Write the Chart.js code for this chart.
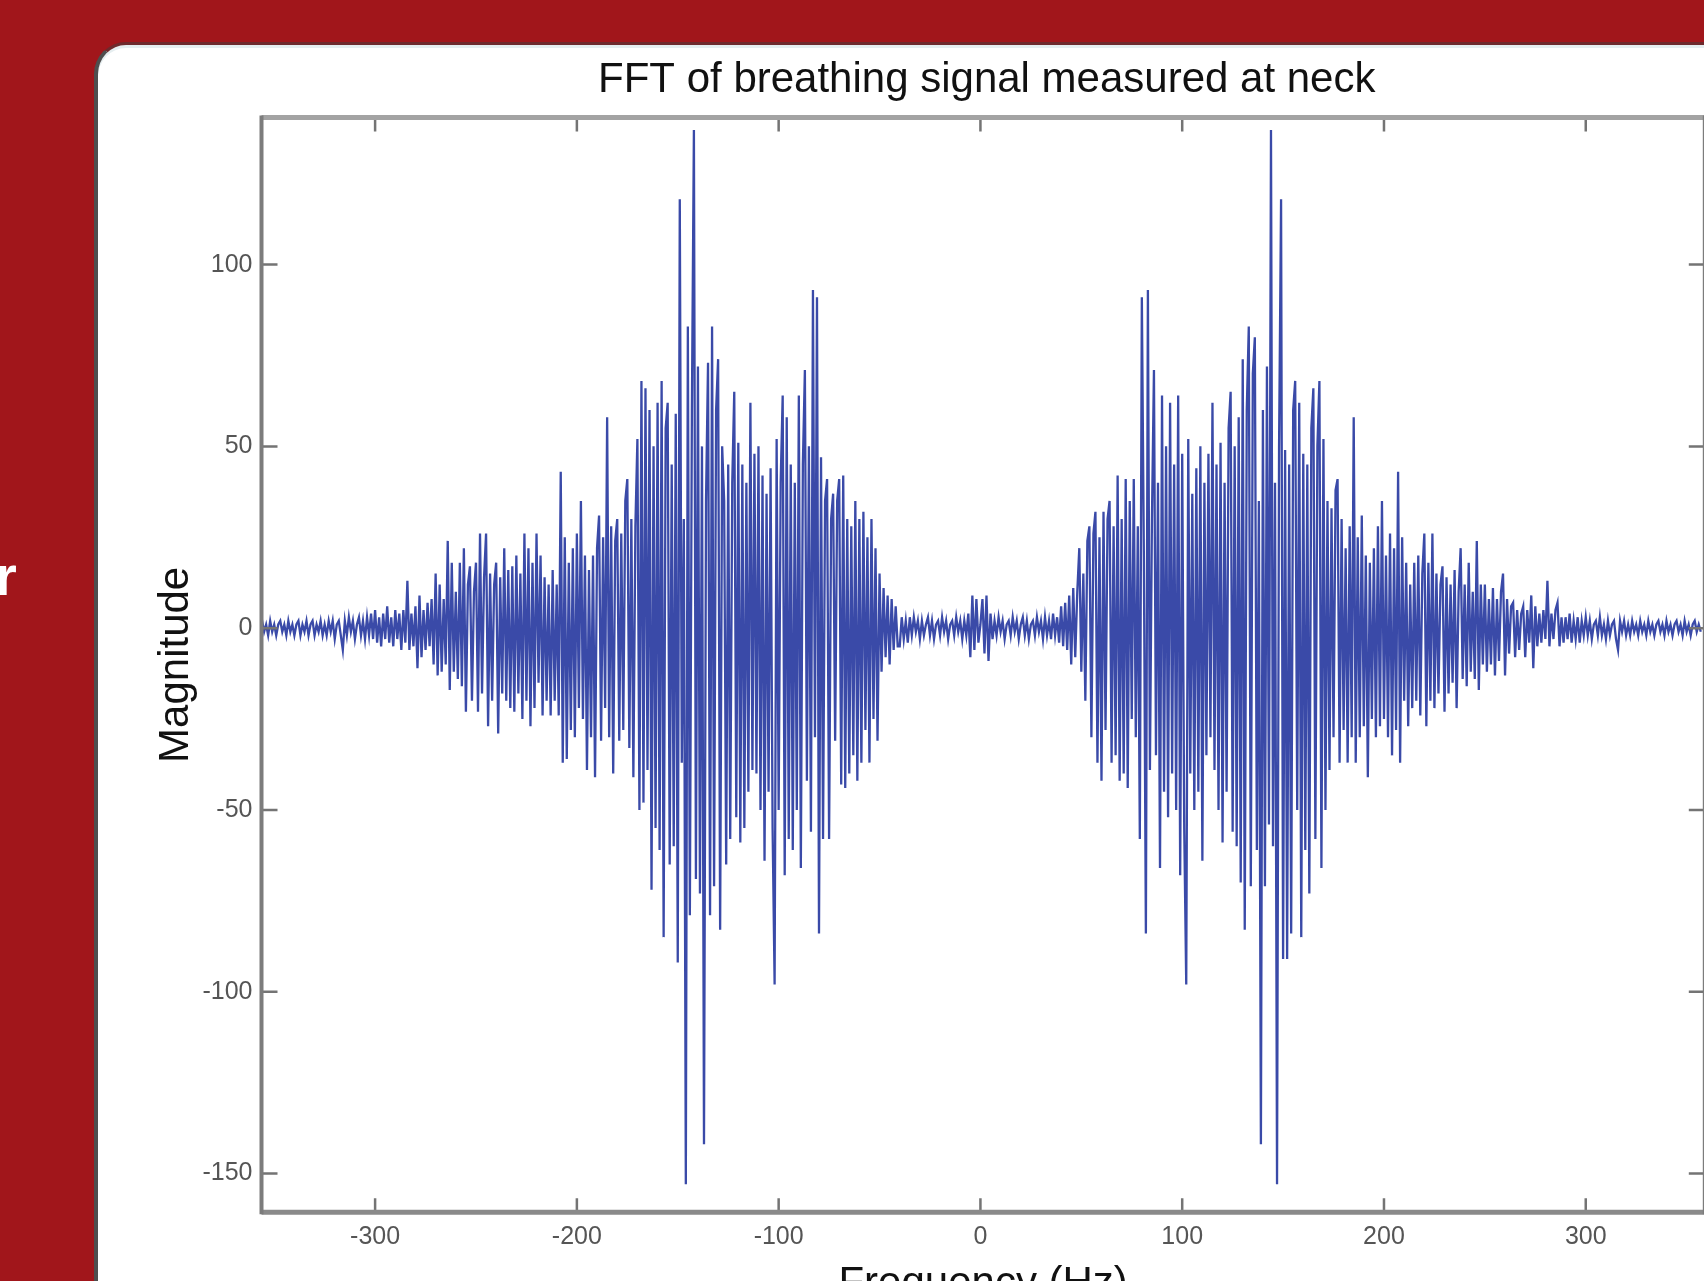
<!DOCTYPE html>
<html>
<head>
<meta charset="utf-8">
<title>FFT of breathing signal measured at neck</title>
<script src="https://cdn.jsdelivr.net/npm/chart.js@4.4.0/dist/chart.umd.min.js"></script>
<style>
  html, body { margin: 0; padding: 0; }
  body {
    width: 1704px; height: 1281px; overflow: hidden; position: relative;
    background: #a1161b; font-family: 'Liberation Sans', Arial, sans-serif;
  }
  .panel {
    position: absolute; left: 94px; top: 42px; width: 1700px; height: 1300px;
    background: #fff; border-top-left-radius: 32px;
    border-left: 4px solid #4e4e4e; border-top: 3px solid #6e2a2d;
    box-shadow: inset 0 3px 0 #e6eef0;
  }
  .cut {
    position: absolute; left: -5px; top: 548px; color: #fff;
    font: bold 56px/56px 'Liberation Sans', Arial, sans-serif;
  }
  #chart { position: absolute; left: 0; top: 0; }
</style>
</head>
<body>
<div class="cut">r</div>
<div class="panel"></div>
<canvas id="chart" width="1834" height="1323" style="width:1834px;height:1323px"></canvas>
<script>
// one sample per Hz, starting at -357 Hz
const FREQ_START = -357;

// -357 .. -281 Hz
const tailLeft = [
  -1, 2, -1, 1, -2, 2, -1, 1, -2, 1,
  2, -1, 1, -2, 2, -1, 1, -2, 1, 2,
  -2, 1, -1, 2, -2, 1, 2, -2, 1, -1,
  2, -2, 1, -2, 2, -1, 2, -3, 1, 2,
  -2, -6, 2, -2, 3, -1, 2, -3, 1, 3,
  -2, 2, -3, 3, -2, 4, -3, 5, -4, 3,
  -5, 4, -3, 6, -4, 3, -5, 5, -3, 4,
  -6, 5, -4, 13, -6, 4, -5
];

// -280 .. -41 Hz
const burstLeft = [
  6, -11, 9, -8, 5, -6, 7, -5, 8, -10,
  15, -13, 12, -12, 8, -10, 24, -17, 18, -12,
  10, -14, 18, -16, 22, -23, 12, 17, -20, 10,
  18, -23, 26, -18, 14, 26, -27, 15, -20, 12,
  18, -29, 14, -18, 22, -20, 16, -22, 17, -23,
  20, -18, 15, -25, 26, -20, 22, -27, 18, -22,
  26, -15, 20, -24, 14, -20, 12, -24, 16, -20,
  12, -24, 43, -37, 25, -36, 18, -28, 22, -30,
  26, -22, 35, -25, 20, -39, 16, -30, 20, -41,
  22, 31, -31, 25, -22, 58, -30, 28, -40, 24,
  30, -31, 26, -28, 35, 41, -33, 30, -41, 28,
  52, -50, 68, -48, 66, -39, 60, -72, 50, -55,
  62, -61, 68, -85, 55, 62, -65, 45, -60, 59,
  -92, 118, -37, 30, -153, 83, -79, 60, 137, -69,
  72, -73, 50, -142, 35, 73, -79, 83, -71, 60,
  74, -83, 50, 35, -65, 45, -58, 40, 65, -52,
  51, -59, 45, -55, 40, -45, 62, -39, 48, -40,
  50, -50, 42, -64, 37, -45, 44, -55, -98, 52,
  -50, 40, 64, -68, 58, -58, 45, -61, 40, -50,
  64, -66, 45, 71, -42, 50, -56, 93, -30, 91,
  -84, 47, -58, 35, 41, -58, 30, 37, -31, 35,
  41, -43, 42, -44, 30, -40, 28, -35, 35, -42,
  30, -37, 32, -28, 25, -37, 30, -25, 22, -31,
  15, -12, 11, -8, 9, -10, 8, -6, 6, -5
];

// -40 .. 40 Hz
const center = [
  -5, 3, -3, 2, -4, 3, -2, 3, -1, 2,
  -3, 2, -2, 1, 3, -2, 2, -3, 1, 2,
  -2, 3, -1, 2, -3, 1, 2, -2, 3, -1,
  2, -3, 2, -2, 4, -8, 9, -6, 8, -4,
  1,
  8, -7, 9, -9, 4, -3, 2, -2, 3,
  -1, 2, -3, 1, 2, -2, 3, -1, 2, -3,
  1, 3, -2, 2, -3, 1, 2, -2, 3, -1,
  2, -3, 3, -2, 2, -3, 4, -2, 3, -4,
  6
];

// 41 .. 280 Hz
const burstRight = [
  -5, 7, -6, 9, -10, 11, -8, 10, 22, -12,
  15, -20, 24, 28, -30, 26, 32, -37, 25, -42,
  32, -28, 30, 35, -37, 28, -35, 42, -42, 30,
  -40, 41, -44, 35, -25, 41, -30, 28, -58, 91,
  20, -84, 93, -39, 30, 71, -35, 40, -66, 64,
  -45, 50, -52, 62, -40, 45, -50, 64, -68, 48,
  -55, -98, 52, -40, 37, -50, 44, -45, 50, -64,
  40, -35, 48, -30, 62, -39, 45, -50, 51, -59,
  40, -45, 55, 65, -56, 50, -60, 58, -70, 74,
  -83, 60, 83, -71, 70, 80, -61, 35, -142, 60,
  -71, 72, -54, 137, -60, 40, -153, 50, 118, -91,
  49, -91, 45, -84, 60, 68, -50, 62, -85, 48,
  -61, 45, -73, 55, 66, -58, 50, 68, -66, 52,
  -50, 35, -39, 33, -30, 38, 41, -37, 30, -28,
  22, -37, 28, -30, 58, -37, 25, -30, 31, -27,
  20, -41, 18, -25, 22, -30, 28, -27, 35, -25,
  20, -30, 26, -35, 22, -28, 43, -37, 25, -20,
  18, -27, 12, -22, 18, -20, 20, -24, 15, 26,
  -27, 18, -20, 26, -22, 15, -18, 12, 17, -23,
  14, -18, 12, -15, 16, -22, 10, 22, -14, 12,
  -16, 18, -12, 10, -14, 24, -17, 12, -10, 12,
  -12, 8, -10, 11, -13, 8, -9, 10, 15, -13,
  8, -7, 6, 7, -8, 5, -6, 4, 6, -8,
  5, -4, 9, -11, 6, -5, 4, -4, 5, -3
];

// 281 .. 357 Hz
const tailRight = [
  13, -5, 4, -3, 5, 7, -5, 3, -4, 3,
  -3, 4, -4, 2, -3, 3, -4, 2, -2, 3,
  -2, 2, -3, 1, 2, -2, 3, -2, 1, -3,
  2, -2, 1, 2, -3, -6, 2, -1, 2, -2,
  1, -2, 2, -1, 1, -2, 2, -1, 1, -2,
  2, -1, 1, -2, 1, 2, -1, 1, -2, 2,
  -1, 1, -2, 1, 2, -1, 1, -2, 2, -1,
  1, -2, 1, 2, -1, 1, -1
];

const xTicks = [-300, -200, -100, 0, 100, 200, 300];
const yTicks = [-150, -100, -50, 0, 50, 100];

const magnitude = [...tailLeft, ...burstLeft, ...center, ...burstRight, ...tailRight];
const points = magnitude.map((m, i) => ({ x: FREQ_START + i, y: m }));

const tickFont = { family: "'Liberation Sans', Arial, sans-serif", size: 25 };
const labelFont = { family: "'Liberation Sans', Arial, sans-serif", size: 42, weight: 'normal' };

// matlab style box with inward ticks
const axesBox = {
  id: 'axesBox',
  afterDraw(chart) {
    const { ctx, chartArea: a, scales } = chart;
    ctx.save();
    ctx.strokeStyle = '#747474';
    ctx.lineWidth = 2.5;
    ctx.beginPath();
    xTicks.forEach(v => {
      const px = scales.x.getPixelForValue(v);
      ctx.moveTo(px, a.bottom); ctx.lineTo(px, a.bottom - 14);
      ctx.moveTo(px, a.top); ctx.lineTo(px, a.top + 14);
    });
    yTicks.forEach(v => {
      const py = scales.y.getPixelForValue(v);
      ctx.moveTo(a.left, py); ctx.lineTo(a.left + 16, py);
      ctx.moveTo(a.right, py); ctx.lineTo(a.right - 16, py);
    });
    ctx.stroke();

    ctx.lineWidth = 5;
    ctx.strokeStyle = '#a3a3a3';
    ctx.beginPath(); ctx.moveTo(a.left, a.top); ctx.lineTo(a.right, a.top); ctx.stroke();
    ctx.strokeStyle = '#8a8a8a';
    ctx.beginPath(); ctx.moveTo(a.left, a.bottom); ctx.lineTo(a.right, a.bottom); ctx.stroke();
    ctx.lineWidth = 4;
    ctx.strokeStyle = '#7c7c7c';
    ctx.beginPath(); ctx.moveTo(a.left, a.top - 2); ctx.lineTo(a.left, a.bottom + 2); ctx.stroke();
    ctx.beginPath(); ctx.moveTo(a.right, a.top - 2); ctx.lineTo(a.right, a.bottom + 2); ctx.stroke();
    ctx.restore();
  }
};

new Chart(document.getElementById('chart'), {
  type: 'line',
  data: {
    datasets: [{
      data: points,
      borderColor: '#3a4aa8',
      borderWidth: 2.3,
      pointRadius: 0,
      tension: 0,
      fill: false
    }]
  },
  options: {
    responsive: false,
    animation: false,
    layout: { padding: { left: 139.5, top: 55.4, right: 0, bottom: 13.3 } },
    plugins: {
      legend: { display: false },
      tooltip: { enabled: false },
      title: {
        display: true,
        text: 'FFT of breathing signal measured at neck',
        color: '#111',
        font: labelFont,
        padding: { top: 0, bottom: 11.6 }
      }
    },
    scales: {
      x: {
        type: 'linear',
        min: -356.3,
        max: 359,
        afterBuildTicks: s => { s.ticks = xTicks.map(v => ({ value: v })); },
        afterFit: s => { s.height = 97.4; },
        grid: { display: false, drawTicks: false },
        border: { display: false },
        ticks: { color: '#555', font: tickFont, padding: 10, maxRotation: 0 },
        title: {
          display: true,
          text: 'Frequency (Hz)',
          color: '#111',
          font: labelFont,
          padding: { top: 0, bottom: 0 }
        }
      },
      y: {
        min: -160.7,
        max: 140.5,
        afterBuildTicks: s => { s.ticks = yTicks.map(v => ({ value: v })); },
        afterFit: s => { s.width = 122; },
        grid: { display: false, drawTicks: false },
        border: { display: false },
        ticks: { color: '#555', font: tickFont, padding: 9 },
        title: {
          display: true,
          text: 'Magnitude',
          color: '#111',
          font: labelFont,
          padding: { top: 11.7, bottom: 0 }
        }
      },
      y2: {
        position: 'right',
        min: -160.7,
        max: 140.5,
        afterFit: s => { s.width = 129.2; },
        grid: { display: false, drawTicks: false },
        border: { display: false },
        ticks: { display: false }
      }
    }
  },
  plugins: [axesBox]
});
</script>
</body>
</html>
